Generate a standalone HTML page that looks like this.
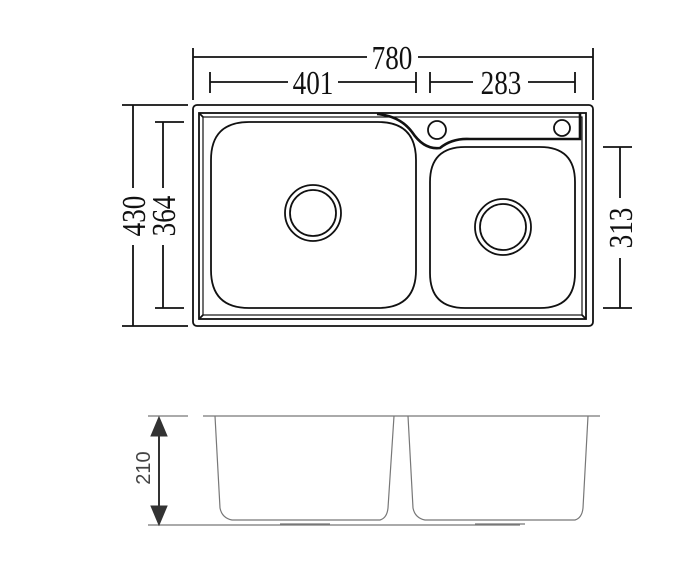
<!DOCTYPE html>
<html><head><style>body{margin:0;background:#fff}svg{display:block}</style></head><body>
<svg width="688" height="580" viewBox="0 0 688 580" xmlns="http://www.w3.org/2000/svg">
<g fill="none" stroke="#111" stroke-width="1.8">
<line x1="193" y1="48" x2="193" y2="100"/><line x1="593" y1="48" x2="593" y2="100"/>
<line x1="193" y1="57" x2="367" y2="57"/><line x1="418" y1="57" x2="593" y2="57"/>
<line x1="210" y1="72" x2="210" y2="93"/><line x1="416" y1="72" x2="416" y2="93"/>
<line x1="210" y1="82" x2="288" y2="82"/><line x1="338" y1="82" x2="416" y2="82"/>
<line x1="430" y1="72" x2="430" y2="93"/><line x1="575" y1="72" x2="575" y2="93"/>
<line x1="430" y1="82" x2="473" y2="82"/><line x1="528" y1="82" x2="575" y2="82"/>
<line x1="122" y1="105" x2="188" y2="105"/><line x1="122" y1="326" x2="188" y2="326"/>
<line x1="133" y1="105" x2="133" y2="188"/><line x1="133" y1="245" x2="133" y2="326"/>
<line x1="155" y1="122" x2="184" y2="122"/><line x1="155" y1="308" x2="184" y2="308"/>
<line x1="163" y1="122" x2="163" y2="188"/><line x1="163" y1="245" x2="163" y2="308"/>
<line x1="603" y1="147" x2="632" y2="147"/><line x1="603" y1="308" x2="632" y2="308"/>
<line x1="620" y1="147" x2="620" y2="198"/><line x1="620" y1="258" x2="620" y2="308"/>
<rect x="193" y="105" width="400" height="221" rx="4"/>
<rect x="199" y="113" width="387" height="206"/>
<rect x="203" y="117" width="379" height="198" stroke-width="1.2"/>
<line x1="199" y1="113" x2="203" y2="117"/><line x1="586" y1="319" x2="582" y2="315"/>
<line x1="199" y1="319" x2="203" y2="315"/>
<path d="M211 160 Q211 122 249 122 L378 122 Q416 122 416 160 L416 270 Q416 308 378 308 L249 308 Q211 308 211 270 Z"/>
<path d="M430 182 Q430 147 465 147 L540 147 Q575 147 575 182 L575 273 Q575 308 540 308 L465 308 Q430 308 430 273 Z"/>
<path d="M377 114 Q400 116 412 132 Q424 150 440 148 Q452 138 470 139 L580 139 L580 113" stroke-width="2.6"/>
<circle cx="313" cy="213" r="28"/><circle cx="313" cy="213" r="23"/>
<circle cx="503" cy="227" r="28"/><circle cx="503" cy="227" r="23"/>
<circle cx="437" cy="130" r="9"/><circle cx="562" cy="128" r="8"/>
</g>
<g font-family="Liberation Serif, serif" font-size="34" fill="#111" text-anchor="middle">
<text x="392" y="69" transform="translate(392 0) scale(0.8 1) translate(-392 0)">780</text>
<text x="313" y="94" transform="translate(313 0) scale(0.8 1) translate(-313 0)">401</text>
<text x="501" y="94" transform="translate(501 0) scale(0.8 1) translate(-501 0)">283</text>
<text transform="translate(145 216) rotate(-90) scale(0.8 1)">430</text>
<text transform="translate(175 216) rotate(-90) scale(0.8 1)">364</text>
<text transform="translate(632 228) rotate(-90) scale(0.8 1)">313</text>
</g>
<g fill="none" stroke="#777" stroke-width="1.2">
<line x1="148" y1="416" x2="188" y2="416"/><line x1="203" y1="416" x2="600" y2="416"/>
<line x1="148" y1="525" x2="520" y2="525"/>
<path d="M215 416 L220 508 Q222 518 232 520 L380 520 Q387 518 388 508 L394 416"/>
<path d="M408 416 L413 508 Q415 518 425 520 L575 520 Q582 518 583 508 L588 416"/>
<line x1="280" y1="524" x2="330" y2="524"/><line x1="475" y1="524" x2="525" y2="524"/>
</g>
<g fill="#333" stroke="#333">
<line x1="159" y1="430" x2="159" y2="512" stroke-width="2"/>
<polygon points="159,417 151,436 167,436"/>
<polygon points="159,525 151,506 167,506"/>
</g>
<text transform="translate(150 468) rotate(-90)" font-family="Liberation Sans, sans-serif" font-size="20" fill="#444" text-anchor="middle">210</text>
</svg>
</body></html>
